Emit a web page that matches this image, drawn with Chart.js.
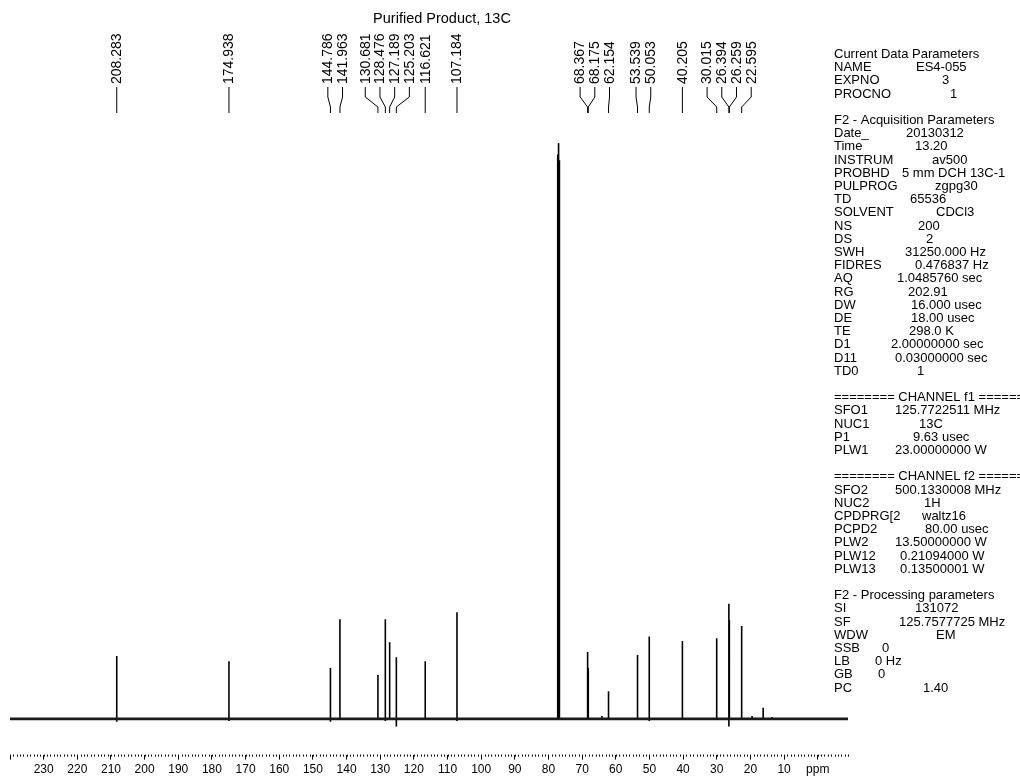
<!DOCTYPE html>
<html>
<head>
<meta charset="utf-8">
<script src="https://cdn.jsdelivr.net/npm/chart.js@4.4.0/dist/chart.umd.min.js"></script>
<style>
  html, body { margin: 0; padding: 0; background: #fff; }
  #wrap { position: relative; width: 1020px; height: 783px; }
</style>
</head>
<body>
<div id="wrap"><canvas id="nmr"></canvas></div>
<script>
const chartTitle = 'Purified Product, 13C';

// peak positions (ppm), heights (CDCl3 = 100) and small negative dips under the baseline
const peakPpm    = [208.283, 174.938, 144.786, 141.963, 130.681, 128.476, 127.189, 125.203, 116.621, 107.184,
                    77.25, 77.0, 76.75, 68.367, 68.175, 64.1, 62.154, 53.539, 50.053, 40.205,
                    30.015, 26.394, 26.259, 22.595, 19.5, 16.2, 13.6];
const peakHeight = [10.9, 10.0, 8.8, 17.3, 7.6, 17.3, 13.3, 10.7, 10.0, 18.5,
                    98, 100, 97, 11.6, 8.8, 0.5, 4.8, 11.1, 14.3, 13.5,
                    14.0, 20.0, 17.1, 16.1, 0.5, 1.9, 0.3];
const peakDip    = [-0.5, -0.4, -0.5, 0, 0, -0.4, 0, -1.35, 0, -0.4,
                    0, 0, 0, 0, 0, 0, 0, -0.2, -0.4, -0.2,
                    0, -1.35, 0, 0, 0, 0, 0];

// peaks that carry a ppm label on top
const labelPpm = [208.283, 174.938, 144.786, 141.963, 130.681, 128.476, 127.189, 125.203, 116.621, 107.184,
                  68.367, 68.175, 62.154, 53.539, 50.053, 40.205, 30.015, 26.394, 26.259, 22.595];

// x axis (ppm, reversed)
const axisLeft = 240;
const axisRight = -9;
const majorStep = 10;

// acquisition / processing parameter block
const infoNames = ['Current Data Parameters', 'NAME', 'EXPNO', 'PROCNO', '',
  'F2 - Acquisition Parameters', 'Date_', 'Time', 'INSTRUM', 'PROBHD', 'PULPROG', 'TD', 'SOLVENT',
  'NS', 'DS', 'SWH', 'FIDRES', 'AQ', 'RG', 'DW', 'DE', 'TE', 'D1', 'D11', 'TD0', '',
  '======== CHANNEL f1 ========', 'SFO1', 'NUC1', 'P1', 'PLW1', '',
  '======== CHANNEL f2 ========', 'SFO2', 'NUC2', 'CPDPRG[2', 'PCPD2', 'PLW2', 'PLW12', 'PLW13', '',
  'F2 - Processing parameters', 'SI', 'SF', 'WDW', 'SSB', 'LB', 'GB', 'PC'];
const infoValues = ['', 'ES4-055', '3', '1', '',
  '', '20130312', '13.20', 'av500', '5 mm DCH 13C-1', 'zgpg30', '65536', 'CDCl3',
  '200', '2', '31250.000 Hz', '0.476837 Hz', '1.0485760 sec', '202.91', '16.000 usec', '18.00 usec', '298.0 K',
  '2.00000000 sec', '0.03000000 sec', '1', '',
  '', '125.7722511 MHz', '13C', '9.63 usec', '23.00000000 W', '',
  '', '500.1330008 MHz', '1H', 'waltz16', '80.00 usec', '13.50000000 W', '0.21094000 W', '0.13500001 W', '',
  '', '131072', '125.7577725 MHz', 'EM', '0', '0 Hz', '0', '1.40'];
const infoValueX = [0, 916, 942, 950, 0,
  0, 906, 915, 932, 902, 935, 910, 936,
  918, 926, 905, 915, 897, 908, 911, 911, 909, 891, 895, 917, 0,
  0, 895, 919, 913, 895, 0,
  0, 895, 924, 922, 925, 895, 900, 900, 0,
  0, 915, 899, 936, 882, 875, 878, 923];

const FONT = '"Liberation Sans", Arial, Helvetica, sans-serif';

// build the stick spectrum from the peak table
const baselineData = [{x: axisLeft, y: 0}, {x: axisRight, y: 0}];
const stickData = [];
peakPpm.forEach((p, i) => {
    stickData.push({x: p, y: 0}, {x: p, y: peakDip[i]}, {x: p, y: peakHeight[i]}, {x: p, y: 0});
});

// spread labels of crowded peaks so they keep a minimum spacing
function spreadLabels(xs, gap) {
    let groups = xs.map((x, i) => ({members: [i], sum: x}));
    let merged = true;
    const pos = g => {
        const c = g.sum / g.members.length;
        return g.members.map((m, k) => c + (k - (g.members.length - 1) / 2) * gap);
    };
    while (merged) {
        merged = false;
        for (let i = 0; i < groups.length - 1; i++) {
            const a = pos(groups[i]), b = pos(groups[i + 1]);
            if (b[0] - a[a.length - 1] < gap) {
                groups[i] = {members: groups[i].members.concat(groups[i + 1].members),
                             sum: groups[i].sum + groups[i + 1].sum};
                groups.splice(i + 1, 1);
                merged = true;
                break;
            }
        }
    }
    const out = [];
    groups.forEach(g => pos(g).forEach((p, k) => { out[g.members[k]] = p; }));
    return out;
}

const decorations = {
    id: 'decorations',
    afterDraw(chart) {
        const ctx = chart.ctx;
        const xs = chart.scales.x;
        const area = chart.chartArea;
        ctx.save();
        ctx.fillStyle = '#000';
        ctx.strokeStyle = '#000';

        // title
        ctx.font = '14.5px ' + FONT;
        ctx.textAlign = 'center';
        ctx.textBaseline = 'middle';
        ctx.fillText(chartTitle, 442, 19);

        // peak labels with connectors
        const peakX = labelPpm.map(p => xs.getPixelForValue(p));
        const labX = spreadLabels(peakX, 14.7);
        ctx.lineWidth = 1;
        ctx.font = '14px ' + FONT;
        ctx.textAlign = 'left';
        labelPpm.forEach((p, i) => {
            ctx.beginPath();
            ctx.moveTo(labX[i], 87);
            ctx.lineTo(labX[i], 97);
            ctx.lineTo(peakX[i], 107);
            ctx.lineTo(peakX[i], 113);
            ctx.stroke();
            ctx.save();
            ctx.translate(labX[i] + 0.5, 84);
            ctx.rotate(-Math.PI / 2);
            ctx.fillText(p.toFixed(3), 0, 0);
            ctx.restore();
        });

        // minor ticks every 1 ppm
        ctx.lineWidth = 1;
        ctx.beginPath();
        for (let v = Math.ceil(axisRight); v <= axisLeft; v++) {
            const x = Math.round(xs.getPixelForValue(v)) + 0.5;
            ctx.moveTo(x, area.bottom);
            ctx.lineTo(x, area.bottom + 2);
        }
        ctx.stroke();

        // parameter block
        ctx.font = '13px ' + FONT;
        ctx.textAlign = 'left';
        infoNames.forEach((name, i) => {
            const y = 54.5 + i * 13.2;
            if (name) ctx.fillText(name, 834, y);
            if (infoValues[i]) ctx.fillText(infoValues[i], infoValueX[i], y);
        });
        ctx.restore();
    }
};

new Chart(document.getElementById('nmr').getContext('2d'), {
    type: 'line',
    data: {
        datasets: [
            {
                label: 'baseline',
                data: baselineData,
                borderColor: '#1a1a1a',
                borderWidth: 2.8,
                pointRadius: 0
            },
            {
                label: '13C',
                data: stickData,
                borderColor: '#000',
                borderWidth: 1.6,
                pointRadius: 0
            }
        ]
    },
    options: {
        responsive: true,
        maintainAspectRatio: false,
        animation: false,
        layout: { padding: { left: 10, right: 172, top: 120, bottom: 3 } },
        plugins: { legend: { display: false }, tooltip: { enabled: false } },
        scales: {
            x: {
                type: 'linear',
                reverse: true,
                min: axisRight,
                max: axisLeft,
                border: { display: false },
                grid: { drawOnChartArea: false, drawTicks: true, tickLength: 5, tickColor: '#000' },
                ticks: {
                    stepSize: majorStep,
                    includeBounds: false,
                    autoSkip: false,
                    maxRotation: 0,
                    padding: 3,
                    color: '#000',
                    font: { family: FONT, size: 12 },
                    callback: v => (v === 0 ? 'ppm' : (v >= axisLeft ? '' : String(v)))
                }
            },
            y: {
                display: false,
                min: -6.22,
                max: 104
            }
        }
    },
    plugins: [decorations]
});
</script>
</body>
</html>
